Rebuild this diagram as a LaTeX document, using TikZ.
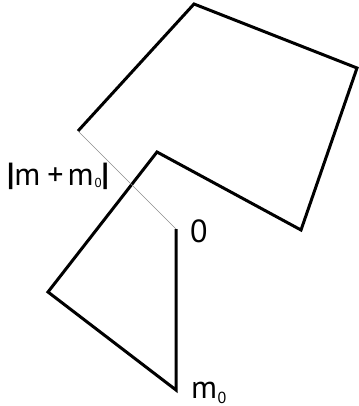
\documentclass[tikz,border=0pt]{standalone}
\usepackage{fontspec}
\setmainfont{PT Sans}
\usetikzlibrary{positioning}

\newcommand{\subo}[2]{\raisebox{-#2pt}{\fontsize{#1}{#1}\selectfont 0}}

\begin{document}
\begin{tikzpicture}[
  x=1pt,y=-1pt,
  side/.style={line width=3pt,line join=miter},
  diag/.style={line width=0.7pt,draw=black!45},
  lbl/.style={font=\fontsize{32}{33}\selectfont,inner sep=0pt},
]
\useasboundingbox (0,0) rectangle (358,406);
% corners of the closed walk
\coordinate (A) at (78,131);
\coordinate (B) at (194,4);
\coordinate (C) at (357,68);
\coordinate (D) at (301,230);
\coordinate (E) at (157,152);
\coordinate (F) at (48,292);
\coordinate (G) at (176,390);
\coordinate (O) at (176,229);
\draw[side] (A) -- (B) -- (C) -- (D) -- (E) -- (F) -- (G) -- (O);
\draw[diag] (A) -- (O);
\node[lbl,anchor=base west] (zero) at (190,242) {0};
\node[lbl,anchor=base west] (mo) at (191,398) {m\kern0.5pt\subo{16}{5}};
\node[lbl,anchor=base west] (sum) at (7,185) {\textbf{|}m\kern7pt+\kern4pt m\kern1pt\subo{13}{2}\textbf{|}};
\end{tikzpicture}
\end{document}
